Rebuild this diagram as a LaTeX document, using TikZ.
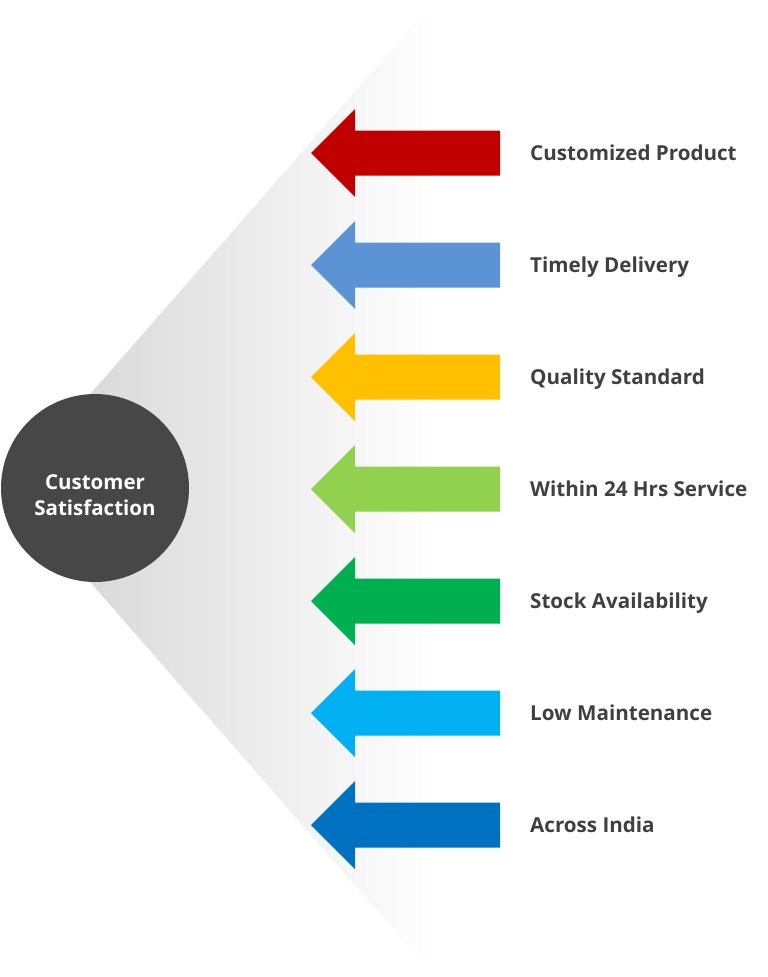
\documentclass[tikz,border=0pt]{standalone}
\usepackage{fontspec}
\setmainfont{Open Sans}
\begin{document}
\begin{tikzpicture}[x=1pt,y=-1pt,
  lbl/.style={anchor=base west,inner sep=0pt,text=txtgray,font=\bfseries\fontsize{20.6}{24}\selectfont},
  hub/.style={circle,fill=hubgray,minimum size=188pt,inner sep=0pt},
  hubtxt/.style={text=white,align=center,inner sep=0pt,font=\bfseries\fontsize{20.5}{26}\selectfont}]
\definecolor{txtgray}{HTML}{404040}
\definecolor{hubgray}{HTML}{474747}
\definecolor{c1}{HTML}{C00000}
\definecolor{c2}{HTML}{5B93D5}
\definecolor{c3}{HTML}{FFC000}
\definecolor{c4}{HTML}{92D050}
\definecolor{c5}{HTML}{00B050}
\definecolor{c6}{HTML}{00B0F0}
\definecolor{c7}{HTML}{0070C0}
\useasboundingbox (0,0) rectangle (768,977);
% wedge
\shade[left color=black!18,right color=white] (8,488) -- (435,0) -- (435,977) -- cycle;
% arrows
\foreach \i/\c/\t in {0/c1/Customized Product,1/c2/Timely Delivery,2/c3/Quality Standard,3/c4/Within 24 Hrs Service,4/c5/Stock Availability,5/c6/Low Maintenance,6/c7/Across India}{
  \pgfmathsetmacro{\yc}{153+112*\i}
  \fill[\c] (311,\yc) -- (355,\yc-44) -- (355,\yc-22.5) -- (500,\yc-22.5) -- (500,\yc+22.5) -- (355,\yc+22.5) -- (355,\yc+44) -- cycle;
  \node[lbl] (l\i) at (530,\yc+7.5) {\t};
}
\node[hub] (hub) at (95,488) {};
\node[hubtxt] (hubt) at (95,495) {Customer\\Satisfaction};
\end{tikzpicture}
\end{document}
